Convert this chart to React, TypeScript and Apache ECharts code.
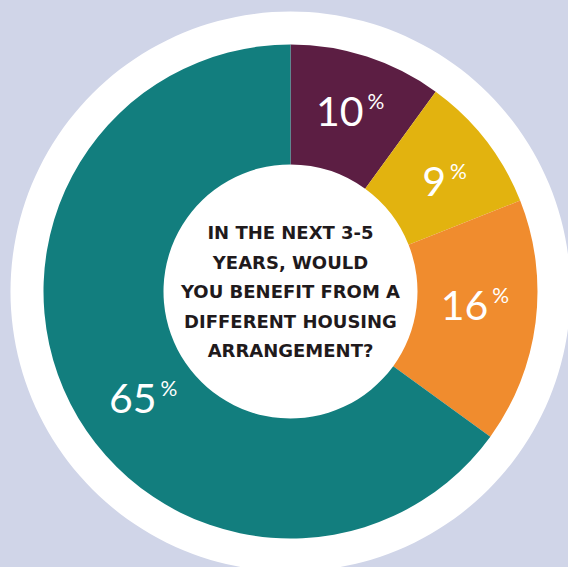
import React, { useEffect, useRef } from "react";
import * as echarts from "echarts";

// Survey answers, in clockwise order from 12 o'clock
const categories = ["Yes, definitely", "Yes, probably", "Maybe", "No"];
const shares = [10, 9, 16, 65];
const sliceColors = ["#5c1e43", "#e2b30f", "#f08c2e", "#127e7e"];
// nudges for each slice's percentage label, in px
const labelOffsets: [number, number][] = [
  [1, 0],
  [4, 5],
  [-4, -11],
  [22, 20],
];
const question = [
  "IN THE NEXT 3-5",
  "YEARS, WOULD",
  "YOU BENEFIT FROM A",
  "DIFFERENT HOUSING",
  "ARRANGEMENT?",
];

const CX = 290.5;
const CY = 291.5;

export default function App() {
  const ref = useRef<HTMLDivElement>(null);

  useEffect(() => {
    document.body.style.margin = "0";
    if (!ref.current) return;
    const chart = echarts.init(ref.current, undefined, { renderer: "svg" });

    chart.setOption({
      animation: false,
      backgroundColor: "#d0d5e8",
      series: [
        {
          // white disc behind the ring
          type: "pie",
          silent: true,
          z: 1,
          center: [CX, CY],
          radius: [0, 280],
          label: { show: false },
          labelLine: { show: false },
          itemStyle: { color: "#ffffff" },
          data: [{ name: "disc", value: 1 }],
        },
        {
          type: "pie",
          z: 2,
          center: [CX, CY],
          radius: [127, 247],
          startAngle: 90,
          clockwise: true,
          labelLine: { show: false },
          label: {
            show: true,
            position: "inside",
            formatter: (p: any) => `{n|${p.value}}{p|%}`,
            rich: {
              n: {
                fontFamily: "Lato",
                fontWeight: 400,
                fontSize: 41,
                color: "#ffffff",
              },
              p: {
                fontFamily: "Lato",
                fontWeight: 400,
                fontSize: 21,
                color: "#ffffff",
                verticalAlign: "top",
                padding: [0, 0, 0, 4],
              },
            },
          },
          data: categories.map((name, i) => ({
            name,
            value: shares[i],
            itemStyle: { color: sliceColors[i] },
            label: { offset: labelOffsets[i] },
          })),
        },
      ],
      graphic: [
        {
          type: "text",
          x: CX,
          y: CY,
          z: 10,
          style: {
            text: question.join("\n"),
            fill: "#1f1a1c",
            font: "bold 18px 'DejaVu Sans'",
            lineHeight: 29.5,
            align: "center",
            verticalAlign: "middle",
          },
        },
      ],
    });

    return () => chart.dispose();
  }, []);

  return <div ref={ref} style={{ width: 568, height: 567 }} />;
}
